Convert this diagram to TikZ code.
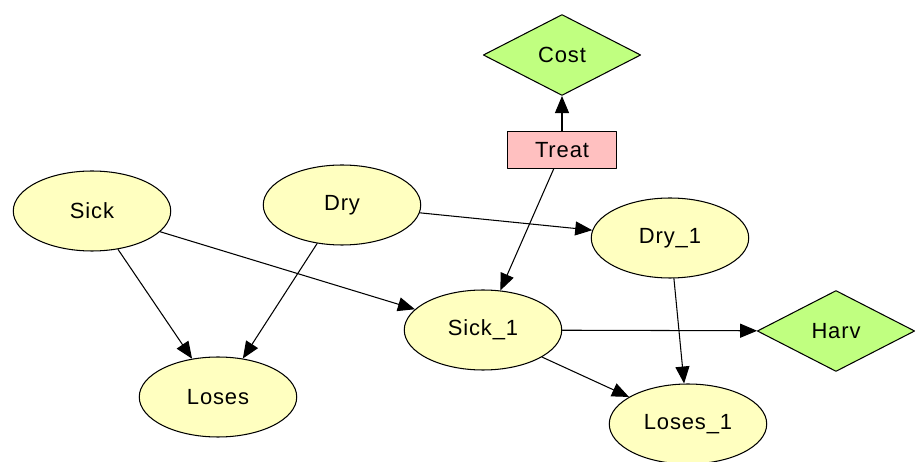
\documentclass[tikz,border=0pt]{standalone}
\usepackage{fontspec}
\setmainfont{Liberation Sans}[LetterSpace=4]
\usetikzlibrary{arrows.meta}
\usetikzlibrary{shapes.geometric}
\definecolor{chance}{RGB}{255,255,192}
\definecolor{utility}{RGB}{192,255,128}
\definecolor{decision}{RGB}{255,192,192}
\begin{document}
\begin{tikzpicture}[line cap=round,line join=round,>={Triangle[length=0.34cm,width=0.28cm]},x=0.02cm,y=-0.02cm,
  font=\fontsize{12.5}{14}\selectfont,
  chancenode/.style={ellipse,draw,fill=chance,line width=0.6pt,minimum width=3.15cm,minimum height=1.6cm,inner sep=0pt},
  utilnode/.style={diamond,draw,fill=utility,line width=0.6pt,aspect=2,minimum width=3.15cm,minimum height=1.62cm,inner sep=0pt},
  decnode/.style={rectangle,draw,fill=decision,line width=0.6pt,minimum width=2.18cm,minimum height=0.74cm,inner sep=0pt},
  link/.style={->,line width=0.6pt}]
\useasboundingbox (0,0) rectangle (920,462);
\node[utilnode] (cost) at (562,55) {Cost};
\node[decnode] (treat) at (562,150) {Treat};
\node[chancenode] (sick) at (92,211) {Sick};
\node[chancenode] (dry) at (342,205) {Dry};
\node[chancenode] (dry1) at (670,238) {Dry\_1};
\node[chancenode] (sick1) at (483,330) {Sick\_1};
\node[utilnode] (harv) at (836,331) {Harv};
\node[chancenode] (loses) at (218,397) {Loses};
\node[chancenode] (loses1) at (688,424) {Loses\_1};
\draw[link] (treat) -- (cost);
\draw[link] (treat) -- (sick1);
\draw[link] (sick) -- (loses);
\draw[link] (sick) -- (sick1);
\draw[link] (dry) -- (loses);
\draw[link] (dry) -- (dry1);
\draw[link] (dry1) -- (loses1);
\draw[link] (sick1) -- (harv);
\draw[link] (sick1) -- (loses1);
\end{tikzpicture}
\end{document}
